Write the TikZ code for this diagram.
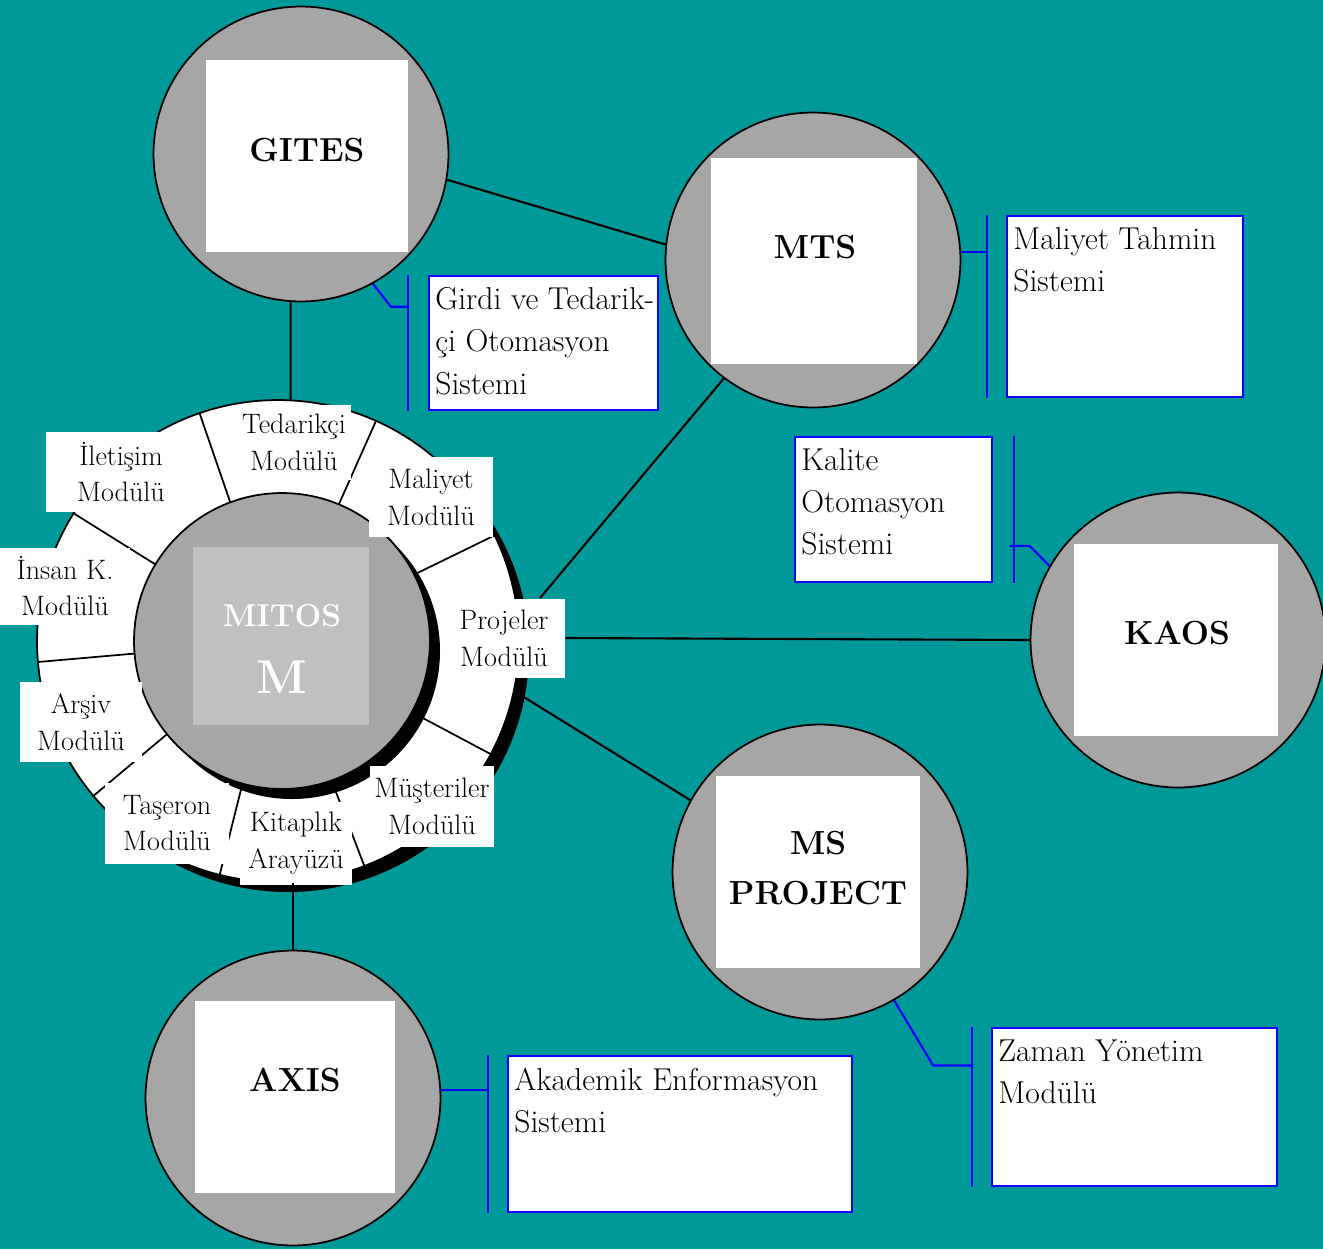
\documentclass[tikz,border=0pt]{standalone}
\usepackage{fontspec}
\usepackage{tikz}
\usetikzlibrary{calc,positioning}
\definecolor{sea}{HTML}{009999}
\definecolor{diskgray}{HTML}{A6A6A6}
\definecolor{hubgray}{HTML}{C0C0C0}

\begin{document}
\begin{tikzpicture}[x=0.02cm,y=-0.02cm]
  \useasboundingbox (0,0) rectangle (1323,1249);
  \fill[sea] (0,0) rectangle (1323,1249);
  \coordinate (pHub) at (282,641);
  \coordinate (pRing) at (278,641);
  \coordinate (pGites) at (301,154);
  \coordinate (pMts) at (813,260);
  \coordinate (pKaos) at (1178,640);
  \coordinate (pMsp) at (820,872);
  \coordinate (pAxis) at (293,1098);
  \tikzstyle{disk} = [circle,draw,line width=1pt,fill=diskgray,minimum size=5.9cm,inner sep=0pt];
  \tikzstyle{sysbox} = [fill=white,inner sep=0pt];
  \tikzstyle{systext} = [font=\fontsize{19}{28}\selectfont\bfseries,align=center];
  \tikzstyle{modbox} = [fill=white,inner sep=0pt,align=center,font=\fontsize{16}{21}\selectfont];
  \tikzstyle{notebox} = [draw=blue,line width=1.2pt,fill=white,anchor=north west,inner sep=0pt];
  \tikzstyle{notetext} = [anchor=north west,align=left,inner xsep=4pt,inner ysep=7pt,font=\fontsize{18}{24}\selectfont];
  \tikzstyle{link} = [line width=1.2pt];
  \tikzstyle{bracket} = [draw=blue,line width=1.2pt];
  % MITOS ring
  \fill[black] ([shift={(10,10)}]pRing) circle (241);
  \node[circle,draw,line width=1pt,fill=white,minimum size=9.64cm,inner sep=0pt] (ring) at (pRing) {};
  \foreach \a in {109,66,26,-28,-69,-104,-140,-175,148}
    \draw[line width=1pt] (ring.center) -- (ring.\a);
  \fill[black] ([shift={(10,10)}]pHub) circle (148);
  \node[disk,minimum size=5.92cm] (hub) at (pHub) {};
  \node[fill=hubgray,inner sep=0pt,minimum width=3.52cm,minimum height=3.56cm] (hubsq) at (281,636) {};
  \node[text=white,font=\fontsize{18}{22}\selectfont\bfseries] (mitos) at (282,616) {MITOS};
  \node[text=white,font=\fontsize{27}{30}\selectfont\bfseries] (mitosM) at (282,677) {M};
  % modules
  \node[modbox,minimum width=3cm,minimum height=1.6cm] (iletisim) at (121,472) {İletişim\\Modülü};
  \node[modbox,minimum width=2.3cm,minimum height=1.5cm] (tedarikci) at (294,442) {Tedarikçi\\Modülü};
  \node[modbox,minimum width=2.48cm,minimum height=1.6cm] (maliyet) at (431,497) {Maliyet\\Modülü};
  \node[modbox,minimum width=2.6cm,minimum height=1.54cm] (insan) at (65,586) {İnsan K.\\Modülü};
  \node[modbox,minimum width=2.44cm,minimum height=1.58cm] (projeler) at (504,638) {Projeler\\Modülü};
  \node[modbox,minimum width=2.44cm,minimum height=1.6cm] (arsiv) at (81,722) {Arşiv\\Modülü};
  \node[modbox,minimum width=2.5cm,minimum height=1.62cm] (taseron) at (167,823) {Taşeron\\Modülü};
  \node[modbox,minimum width=2.24cm,minimum height=1.66cm] (kitaplik) at (296,843) {Kitaplık\\Arayüzü};
  \node[modbox,minimum width=2.5cm,minimum height=1.62cm] (musteriler) at (432,806) {Müşteriler\\Modülü};
  % systems
  \node[disk] (gites) at (pGites) {};
  \node[disk] (mts) at (pMts) {};
  \node[disk] (kaos) at (pKaos) {};
  \node[disk] (msp) at (pMsp) {};
  \node[disk] (axis) at (pAxis) {};
  \node[sysbox,minimum width=4.04cm,minimum height=3.86cm] (gitesbox) at (307,156) {};
  \node[sysbox,minimum width=4.14cm,minimum height=4.12cm] (mtsbox) at (814,261) {};
  \node[sysbox,minimum width=4.1cm,minimum height=3.86cm] (kaosbox) at (1176,640) {};
  \node[sysbox,minimum width=4.08cm,minimum height=3.84cm] (mspbox) at (818,872) {};
  \node[sysbox,minimum width=4cm,minimum height=3.84cm] (axisbox) at (295,1097) {};
  \node[systext] at (307,150) {GITES};
  \node[systext] at (815,247) {MTS};
  \node[systext] at (1177,633) {KAOS};
  \node[systext] at (818,868) {MS\\PROJECT};
  \node[systext] at (295,1080) {AXIS};
  % links
  \draw[link] (gites.-10) -- (mts.174);
  \draw[link] (gites.-94) -- (ring.87);
  \draw[link] (mts.-127) -- ([xshift=0.72cm]projeler.north);
  \draw[link] (projeler.east) -- (kaos.west);
  \draw[link] (ring.-12) -- (msp.151);
  \draw[link] (axis.north) -- (axis.north |- ring.south);
  % notes
  \node[notebox,minimum width=4.58cm,minimum height=2.68cm] (gitesnote) at (428,275) {};
  \node[notetext] at (gitesnote.north west) {Girdi ve Tedarik-\\çi Otomasyon\\Sistemi};
  \node[notebox,minimum width=4.72cm,minimum height=3.62cm] (mtsnote) at (1006,215) {};
  \node[notetext] at (mtsnote.north west) {Maliyet Tahmin\\Sistemi};
  \node[notebox,minimum width=3.94cm,minimum height=2.9cm] (kaosnote) at (794,436) {};
  \node[notetext] at (kaosnote.north west) {Kalite\\Otomasyon\\Sistemi};
  \node[notebox,minimum width=5.7cm,minimum height=3.16cm] (mspnote) at (991,1027) {};
  \node[notetext] at (mspnote.north west) {Zaman Yönetim\\Modülü};
  \node[notebox,minimum width=6.88cm,minimum height=3.12cm] (axisnote) at (507,1055) {};
  \node[notetext] at (axisnote.north west) {Akademik Enformasyon\\Sistemi};
  % brackets
  \draw[bracket] ([xshift=-0.4cm]gitesnote.north west) -- ([xshift=-0.4cm]gitesnote.south west);
  \draw[bracket] (gites.-61) -- ++(18,23) -- ++(16,0);
  \draw[bracket] ([xshift=-0.38cm]mtsnote.north west) -- ([xshift=-0.38cm]mtsnote.south west);
  \draw[bracket] (mts.3) -- ++(27,0);
  \draw[bracket] ([xshift=0.42cm]kaosnote.north east) -- ([xshift=0.42cm]kaosnote.south east);
  \draw[bracket] (kaos.150) -- ++(-20,-20) -- ++(-20,0);
  \draw[bracket] ([xshift=-0.38cm]mspnote.north west) -- ([xshift=-0.38cm]mspnote.south west);
  \draw[bracket] (msp.-60) -- ++(39,65) -- ++(40,0);
  \draw[bracket] ([xshift=-0.38cm]axisnote.north west) -- ([xshift=-0.38cm]axisnote.south west);
  \draw[bracket] (axis.3) -- ++(47,0);
\end{tikzpicture}
\end{document}
